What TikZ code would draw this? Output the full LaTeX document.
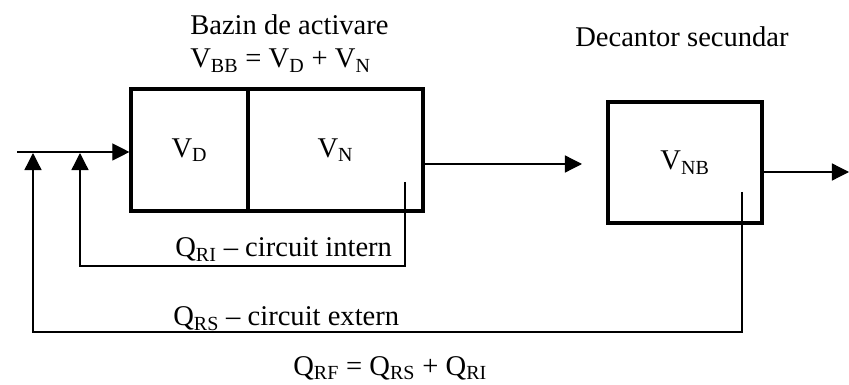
\documentclass[tikz,border=0pt]{standalone}
\usepackage{fontspec}
\setmainfont{Liberation Serif}
\usetikzlibrary{arrows.meta, calc}

\begin{document}
\begin{tikzpicture}[
    x=0.7pt, y=-0.7pt,
    every node/.style={font=\fontsize{20}{23}\selectfont, inner sep=0pt},
    tank/.style     ={draw=black, line width=2.2pt, minimum height=85.4pt},
    flow/.style     ={-{Triangle[length=12pt, width=12pt]}, line width=0.9pt},
]
\useasboundingbox (0,0) rectangle (849,385);

% ---------- titles ----------
\node[anchor=base west] (titleA) at (190,35) {Bazin de activare};
\node[anchor=base west] (titleB) at (190,68) {V\textsubscript{BB} = V\textsubscript{D} + V\textsubscript{N}};
\node[anchor=base west] (titleC) at (575,47) {Decantor secundar};

% ---------- activation basin (two zones) ----------
\node[tank, minimum width=81.9pt]  (zoneD) at (189.5,150) {V\textsubscript{D}};
\node[tank, minimum width=122.5pt] (zoneN) at (335.5,150) {V\textsubscript{N}};

% ---------- secondary settler ----------
\node[tank, minimum width=107.8pt, minimum height=84.7pt] (settler) at (685,162.5) {V\textsubscript{NB}};

% ---------- key points ----------
\coordinate (inlet)  at (17,152);
\coordinate (jExt)   at (33,153);
\coordinate (jInt)   at (80,153);
\coordinate (riOut)  at (405,182);
\coordinate (rsOut)  at (742,192);
\coordinate (toSet)  at (582,164);
\coordinate (outlet) at (849,172);

% ---------- main line ----------
\draw[flow] (inlet) -- (inlet -| zoneD.west);
\draw[flow] (zoneN.east |- toSet) -- (toSet);
\draw[flow] (settler.east |- outlet) -- (outlet);

% ---------- recirculation loops ----------
\draw[flow] (riOut) -- (riOut |- 0,266) -| (jInt);
\draw[flow] (rsOut) -- (rsOut |- 0,332) -| (jExt);

% ---------- loop labels ----------
\node[anchor=base west] (lblInt) at (175,257) {Q\textsubscript{RI} -- circuit intern};
\node[anchor=base west] (lblExt) at (173,326) {Q\textsubscript{RS} -- circuit extern};
\node[anchor=base west] (lblSum) at (293,375) {Q\textsubscript{RF} = Q\textsubscript{RS} + Q\textsubscript{RI}};

\end{tikzpicture}
\end{document}
